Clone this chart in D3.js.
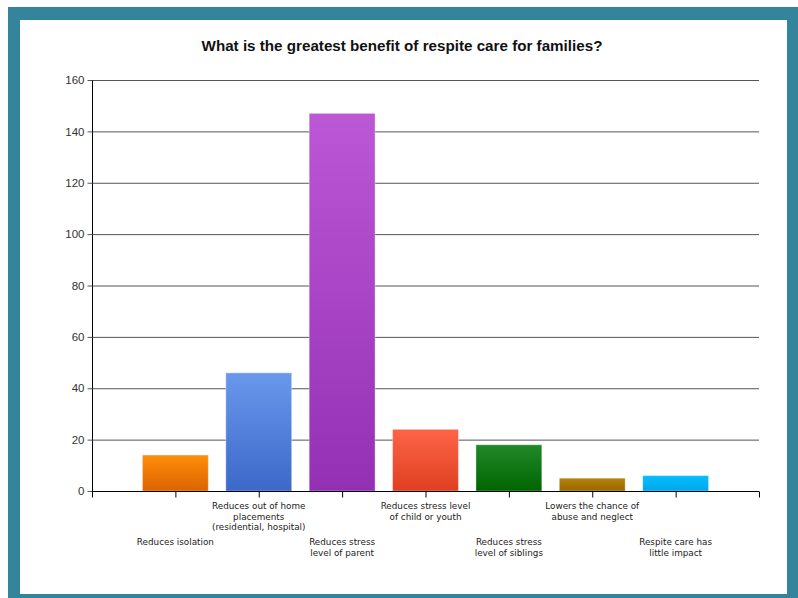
<!DOCTYPE html>
<html><head><meta charset="utf-8">
<script src="https://cdn.jsdelivr.net/npm/d3@7"></script>
<style>html,body{margin:0;padding:0;background:#fff;}</style>
</head><body>
<script>
const title = "What is the greatest benefit of respite care for families?";
const categories = [
  ["Reduces isolation"],
  ["Reduces out of home", "placements", "(residential, hospital)"],
  ["Reduces stress", "level of parent"],
  ["Reduces stress level", "of child or youth"],
  ["Reduces stress", "level of siblings"],
  ["Lowers the chance of", "abuse and neglect"],
  ["Respite care has", "little impact"]
];
const values = [14, 46, 147, 24, 18, 5, 6];
const yTicks = [0, 20, 40, 60, 80, 100, 120, 140, 160];
const colorsTop = ["#FF8E0A", "#6A98EC", "#BC57D6", "#FF6448", "#22892A", "#B5840E", "#06BEFC"];
const colorsBottom = ["#DC6300", "#3C68C8", "#9430B4", "#DE3F20", "#006500", "#9A6600", "#00A6EA"];

const W = 798, H = 598;
const svg = d3.select("body").append("svg").attr("width", W).attr("height", H);

// frame
svg.append("rect").attr("x", 8).attr("y", 7).attr("width", W - 8).attr("height", H - 7).attr("fill", "#34849C");
svg.append("rect").attr("x", 20).attr("y", 20).attr("width", 767).attr("height", 574).attr("fill", "#fff");

const x0 = 92, x1 = 759, yTop = 80, yBot = 491;
const x = d3.scaleLinear().domain([0, categories.length + 1]).range([x0, x1]);
const y = d3.scaleLinear().domain([0, 160]).range([yBot, yTop]);
const slot = x(1) - x(0);
const bw = slot * 0.79;

svg.append("text").attr("x", 402).attr("y", 51).attr("text-anchor", "middle")
  .attr("font-family", "Liberation Sans, Arial, sans-serif").attr("font-weight", "bold")
  .attr("font-size", 15.2).attr("fill", "#111").text(title);

// gridlines
svg.append("g").selectAll("line").data(yTicks.filter(d => d > 0)).join("line")
  .attr("x1", x0).attr("x2", x1).attr("y1", d => y(d) + 0.5).attr("y2", d => y(d) + 0.5)
  .attr("stroke", "#555").attr("stroke-width", 1);

// gradients
const defs = svg.append("defs");
values.forEach((v, i) => {
  const g = defs.append("linearGradient").attr("id", "g" + i).attr("x1", 0).attr("x2", 0).attr("y1", 0).attr("y2", 1);
  g.append("stop").attr("offset", "0%").attr("stop-color", colorsTop[i]);
  g.append("stop").attr("offset", "100%").attr("stop-color", colorsBottom[i]);
});

// bars
svg.append("g").selectAll("rect").data(values).join("rect")
  .attr("x", (d, i) => x(i + 1) - bw / 2)
  .attr("y", d => y(d))
  .attr("width", bw)
  .attr("height", d => yBot - y(d))
  .attr("fill", (d, i) => `url(#g${i})`)
  .attr("stroke", "rgba(255,255,255,0.35)").attr("stroke-width", 1);

// y axis
const yAxis = d3.axisLeft(y).tickValues(yTicks).tickSize(5).tickPadding(3);
const ga = svg.append("g").attr("transform", `translate(${x0 + 0.5},0)`).call(yAxis);
ga.select(".domain").attr("stroke", "#000").attr("d", `M0,${yTop}V${yBot + 6}`);
ga.selectAll(".tick line").attr("stroke", "#555");
ga.selectAll(".tick text").attr("font-family", "Liberation Sans, Arial, sans-serif")
  .attr("font-size", 11.5).attr("fill", "#333");

// x axis
const xAxis = d3.axisBottom(x).tickValues(d3.range(0, categories.length + 2)).tickSize(6).tickFormat("");
const gx = svg.append("g").attr("transform", `translate(0,${yBot + 0.5})`).call(xAxis);
gx.select(".domain").attr("stroke", "#000").attr("d", `M${x0},0H${x1}`);
gx.selectAll(".tick line").attr("stroke", "#000");

// category labels (staggered)
const lab = svg.append("g").attr("font-family", "DejaVu Sans, Verdana, sans-serif").attr("font-size", 8.8).attr("fill", "#222");
categories.forEach((lines, i) => {
  const row = i % 2 === 1 ? 0 : 1;
  const y0 = row === 0 ? 509 : 545;
  const t = lab.append("text").attr("text-anchor", "middle");
  lines.forEach((ln, j) => {
    t.append("tspan").attr("x", x(i + 1)).attr("y", y0 + j * 10.7).text(ln);
  });
});
</script>
</body></html>
